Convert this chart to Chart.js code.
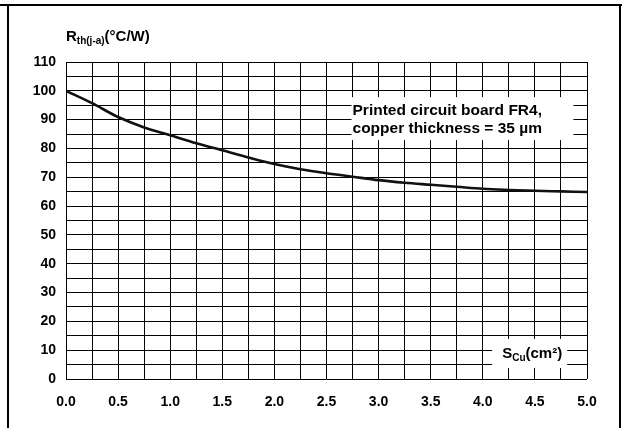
<!DOCTYPE html>
<html>
<head>
<meta charset="utf-8">
<script src="https://cdn.jsdelivr.net/npm/chart.js@4/dist/chart.umd.min.js"></script>
<style>
  html, body { margin: 0; padding: 0; background: #fff; }
  #wrap { position: relative; width: 622px; height: 428px; overflow: hidden; }
  .frame { position: absolute; background: #000; }
  #chart { position: absolute; left: 0; top: 0; }
</style>
</head>
<body>
<div id="wrap">
  <canvas id="chart" width="622" height="428"></canvas>
  <div class="frame" style="left:0;top:4px;width:622px;height:2px"></div>
  <div class="frame" style="left:7px;top:4px;width:2px;height:424px"></div>
  <div class="frame" style="left:619px;top:4px;width:2px;height:424px"></div>
</div>
<script>
// Copper area (cm²) and thermal resistance (°C/W)
const copperArea = [0, 0.25, 0.5, 0.75, 1.0, 1.25, 1.5, 1.75, 2.0, 2.25, 2.5, 2.75, 3.0, 3.25, 3.5, 3.75, 4.0, 4.25, 4.5, 4.75, 5.0];
const rthValues = [100, 95.7, 90.9, 87.3, 84.6, 81.8, 79.4, 76.9, 74.6, 72.8, 71.4, 70.2, 69.0, 68.1, 67.4, 66.7, 66.0, 65.6, 65.3, 65.1, 64.9];
const noteLines = ['Printed circuit board FR4,', 'copper thickness = 35 µm'];

const FONT = '"Liberation Sans", Arial, sans-serif';

// draws text with a lowered subscript part
function subText(ctx, x, y, main, sub, tail, size, subSize){
  ctx.font = 'bold ' + size + 'px ' + FONT;
  ctx.fillText(main, x, y);
  x += ctx.measureText(main).width;
  ctx.font = 'bold ' + subSize + 'px ' + FONT;
  ctx.fillText(sub, x, y + 3);
  x += ctx.measureText(sub).width;
  ctx.font = 'bold ' + size + 'px ' + FONT;
  ctx.fillText(tail, x, y);
}

// titles and the white label boxes sitting on the grid
const labelsPlugin = {
  id: 'labels',
  afterDraw(chart){
    const ctx = chart.ctx;
    const xs = chart.scales.x, ys = chart.scales.y;
    ctx.save();
    ctx.fillStyle = '#000';
    ctx.textBaseline = 'alphabetic';
    ctx.textAlign = 'left';

    // y-axis title
    subText(ctx, 66, 41, 'R', 'th(j-a)', '(°C/W)', 15, 10);

    // note box
    const bx1 = xs.getPixelForValue(2.74), bx2 = xs.getPixelForValue(4.87);
    const by1 = ys.getPixelForValue(97.8), by2 = ys.getPixelForValue(82.9);
    ctx.fillStyle = '#fff';
    ctx.fillRect(bx1, by1, bx2 - bx1, by2 - by1);
    ctx.fillStyle = '#000';
    ctx.font = 'bold 15.5px ' + FONT;
    ctx.fillText(noteLines[0], bx1 + 1, by1 + 18);
    ctx.fillText(noteLines[1], bx1 + 1, by1 + 36);

    // x-axis title box
    const sx1 = xs.getPixelForValue(4.09), sx2 = xs.getPixelForValue(4.81);
    const sy1 = ys.getPixelForValue(13.9), sy2 = ys.getPixelForValue(3.8);
    ctx.fillStyle = '#fff';
    ctx.fillRect(sx1, sy1, sx2 - sx1, sy2 - sy1);
    ctx.fillStyle = '#000';
    subText(ctx, sx1 + 10, 358, 'S', 'Cu', '(cm²)', 15, 10);
    ctx.restore();
  }
};

new Chart(document.getElementById('chart').getContext('2d'), {
  type: 'line',
  data: {
    datasets: [{
      data: copperArea.map((a, i) => ({x: a, y: rthValues[i]})),
      borderColor: '#111',
      borderWidth: 2.6,
      pointRadius: 0,
      fill: false,
      cubicInterpolationMode: 'monotone'
    }]
  },
  options: {
    responsive: false,
    animation: false,
    layout: { padding: { left: 0, right: 35, top: 62, bottom: 0 } },
    plugins: { legend: { display: false }, tooltip: { enabled: false } },
    scales: {
      x: {
        type: 'linear',
        min: 0, max: 5,
        afterFit(scale){ scale.height = 49; },
        border: { display: false },
        grid: { color: '#000', lineWidth: 1, drawTicks: false },
        ticks: {
          stepSize: 0.25,
          autoSkip: false,
          maxRotation: 0,
          padding: 15,
          color: '#000',
          font: { family: FONT, size: 14, weight: 'bold' },
          callback: v => (Math.abs(v * 2 - Math.round(v * 2)) < 1e-6) ? v.toFixed(1) : ''
        }
      },
      y: {
        min: 0, max: 110,
        afterFit(scale){ scale.width = 66; },
        border: { display: false },
        grid: { color: '#000', lineWidth: 1, drawTicks: false },
        ticks: {
          stepSize: 5,
          autoSkip: false,
          padding: 10,
          color: '#000',
          font: { family: FONT, size: 14, weight: 'bold' },
          callback: v => (v % 10 === 0) ? String(v) : ''
        }
      }
    }
  },
  plugins: [labelsPlugin]
});
</script>
</body>
</html>
